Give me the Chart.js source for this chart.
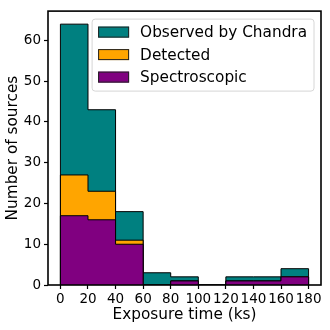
<!DOCTYPE html>
<html>
<head>
<meta charset="utf-8">
<script src="https://cdn.jsdelivr.net/npm/chart.js@4.4.0/dist/chart.umd.min.js"></script>
<style>
  html, body { margin: 0; padding: 0; background: #fff; }
</style>
</head>
<body>
<canvas id="hist-chart" width="330" height="330"></canvas>
<script>
// histogram in 20 ks bins
const binEdges = [0, 20, 40, 60, 80, 100, 120, 140, 160, 180];
const observed = [64, 43, 18, 3, 2, 0, 2, 2, 4];
const detected = [27, 23, 11, 0, 1, 0, 1, 1, 2];
const spectroscopic = [17, 16, 10, 0, 1, 0, 1, 1, 2];
const seriesNames = ["Observed by Chandra", "Detected", "Spectroscopic"];
const xTicks = [0, 20, 40, 60, 80, 100, 120, 140, 160, 180];
const yTicks = [0, 10, 20, 30, 40, 50, 60];

const FONT = "'DejaVu Sans', sans-serif";

// outline of a filled step histogram (like histtype='stepfilled')
function steps(vals) {
  const last = binEdges[binEdges.length - 1];
  const p = [{ x: binEdges[0], y: 0 }];
  vals.forEach((v, i) => p.push({ x: binEdges[i], y: v }));
  p.push({ x: last, y: vals[vals.length - 1] });
  p.push({ x: last, y: 0 });
  return p;
}

// box round the plot and legend in the upper right
const frameAndLegend = {
  id: 'frameAndLegend',
  afterDatasetsDraw(chart) {
    const ctx = chart.ctx, a = chart.chartArea;
    ctx.save();
    ctx.strokeStyle = '#000';
    ctx.lineWidth = 1.6;
    ctx.strokeRect(a.left, a.top, a.right - a.left, a.bottom - a.top);

    ctx.font = "15.3px " + FONT;
    const maxW = Math.max(...chart.data.datasets.map(d => ctx.measureText(d.label).width));
    const patchW = 31, patchH = 11, rowH = 22.5;
    const boxW = 6 + patchW + 11 + maxW + 7;
    const boxH = 72;
    const bx = a.right - 7 - boxW, by = a.top + 8;
    ctx.beginPath();
    ctx.roundRect(bx, by, boxW, boxH, 3);
    ctx.fillStyle = 'rgba(255,255,255,0.8)';
    ctx.fill();
    ctx.lineWidth = 1;
    ctx.strokeStyle = '#d6d6d6';
    ctx.stroke();

    chart.data.datasets.forEach((d, i) => {
      const cy = by + 13 + i * rowH;
      ctx.fillStyle = d.backgroundColor;
      ctx.fillRect(bx + 6, cy - patchH / 2, patchW, patchH);
      ctx.strokeStyle = '#222';
      ctx.lineWidth = 1;
      ctx.strokeRect(bx + 6.5, cy - patchH / 2 + 0.5, patchW - 1, patchH - 1);
      ctx.fillStyle = '#000';
      ctx.textBaseline = 'middle';
      ctx.textAlign = 'left';
      ctx.fillText(d.label, bx + 6 + patchW + 11, cy + 1);
    });
    ctx.restore();
  }
};

new Chart(document.getElementById("hist-chart"), {
  type: 'line',
  data: {
    datasets: [{
      label: seriesNames[0],
      data: steps(observed),
      backgroundColor: "#008080",
      order: 3
    }, {
      label: seriesNames[1],
      data: steps(detected),
      backgroundColor: "#ffa500",
      order: 2
    }, {
      label: seriesNames[2],
      data: steps(spectroscopic),
      backgroundColor: "#800080",
      order: 1
    }]
  },
  options: {
    responsive: false,
    animation: false,
    devicePixelRatio: 1,
    layout: { padding: { top: 7, right: 9, left: 0, bottom: 0 } },
    datasets: {
      line: {
        stepped: 'before',
        fill: 'origin',
        borderColor: '#000',
        borderWidth: 1,
        pointRadius: 0,
        tension: 0
      }
    },
    plugins: {
      legend: { display: false },
      tooltip: { enabled: false }
    },
    scales: {
      x: {
        type: 'linear',
        min: -9,
        max: 189,
        afterBuildTicks: s => { s.ticks = xTicks.map(v => ({ value: v })); },
        afterFit: s => { s.height = 45; },
        grid: { drawOnChartArea: false, tickLength: 4, tickColor: '#000', tickWidth: 1.2 },
        border: { display: false },
        ticks: { color: '#000', font: { family: FONT, size: 13.5 }, padding: 2, maxRotation: 0, autoSkip: false },
        title: { display: true, text: 'Exposure time (ks)', color: '#000', font: { family: FONT, size: 15.3 }, padding: { top: 0, bottom: 6 } }
      },
      y: {
        min: 0,
        max: 67.2,
        afterBuildTicks: s => { s.ticks = yTicks.map(v => ({ value: v })); },
        afterFit: s => { s.width = 48; },
        grid: { drawOnChartArea: false, tickLength: 4, tickColor: '#000', tickWidth: 1.2 },
        border: { display: false },
        ticks: { color: '#000', font: { family: FONT, size: 13.5 }, padding: 3 },
        title: { display: true, text: 'Number of sources', color: '#000', font: { family: FONT, size: 15.3 }, padding: { top: 4, bottom: 0 } }
      }
    }
  },
  plugins: [frameAndLegend]
});
</script>
</body>
</html>
